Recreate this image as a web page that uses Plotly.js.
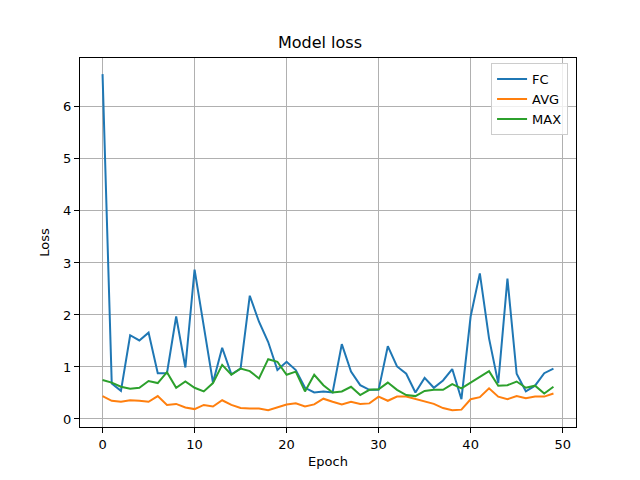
<!DOCTYPE html>
<html>
<head>
<meta charset="utf-8">
<script src="https://cdn.plot.ly/plotly-3.0.1.min.js"></script>
<style>html,body{margin:0;padding:0;background:#fff;}#chart{width:640px;height:480px;}</style>
</head>
<body>
<div id="chart"></div>
<script>
const epochs = Array.from({length: 50}, (_, i) => i);
const fcLoss = [6.63,0.68,0.54,1.61,1.51,1.66,0.88,0.88,1.97,0.99,
                2.87,1.80,0.70,1.37,0.86,0.97,2.37,1.87,1.48,0.94,
                1.10,0.94,0.60,0.51,0.53,0.51,1.44,0.91,0.65,0.56,
                0.56,1.40,1.01,0.87,0.51,0.79,0.60,0.74,0.96,0.38,
                1.97,2.80,1.55,0.69,2.70,0.87,0.53,0.64,0.88,0.97];
const avgLoss = [0.44,0.35,0.33,0.36,0.35,0.33,0.44,0.27,0.29,0.22,
                 0.19,0.27,0.24,0.36,0.27,0.21,0.20,0.20,0.17,0.22,
                 0.28,0.30,0.24,0.28,0.39,0.33,0.28,0.33,0.29,0.30,
                 0.43,0.35,0.43,0.43,0.38,0.33,0.29,0.21,0.17,0.18,
                 0.38,0.42,0.59,0.43,0.38,0.44,0.40,0.43,0.43,0.49];
const maxLoss = [0.75,0.70,0.62,0.58,0.60,0.73,0.69,0.90,0.60,0.72,
                 0.60,0.53,0.69,1.04,0.85,0.97,0.92,0.78,1.15,1.10,
                 0.85,0.91,0.53,0.85,0.65,0.51,0.53,0.62,0.46,0.56,
                 0.57,0.70,0.56,0.46,0.44,0.54,0.56,0.56,0.67,0.59,
                 0.70,0.81,0.92,0.64,0.65,0.72,0.60,0.64,0.49,0.62];
const seriesNames = ["FC", "AVG", "MAX"];
const colors = ["#1f77b4", "#ff7f0e", "#2ca02c"];
const xTicks = [0, 10, 20, 30, 40, 50];
const yTicks = [0, 1, 2, 3, 4, 5, 6];

const data = [fcLoss, avgLoss, maxLoss].map((ys, i) => ({
  x: epochs, y: ys, type: "scatter", mode: "lines", name: seriesNames[i],
  line: {color: colors[i], width: 2}
}));

const axisCommon = {
  showline: true, mirror: true, linecolor: "#000", linewidth: 1,
  ticks: "outside", ticklen: 5, tickcolor: "#000", tickwidth: 1,
  showgrid: true, gridcolor: "#b0b0b0", gridwidth: 1, zeroline: false,
  tickfont: {family: "DejaVu Sans", size: 13, color: "#000"}
};

const layout = {
  width: 640, height: 480,
  margin: {l: 80, r: 64, t: 58, b: 53},
  paper_bgcolor: "#fff", plot_bgcolor: "#fff",
  font: {family: "DejaVu Sans", color: "#000"},
  title: {text: "Model loss", font: {family: "DejaVu Sans", size: 16, color: "#000"}, x: 0.5, xanchor: "center", y: 0.912, yanchor: "middle"},
  xaxis: Object.assign({}, axisCommon, {
    range: [-2.45, 51.45], tickvals: xTicks, ticktext: xTicks.map(String),
    title: {text: "Epoch", font: {family: "DejaVu Sans", size: 13, color: "#000"}, standoff: 6}
  }),
  yaxis: Object.assign({}, axisCommon, {
    range: [-0.154, 6.94], tickvals: yTicks, ticktext: yTicks.map(String),
    title: {text: "Loss", font: {family: "DejaVu Sans", size: 13, color: "#000"}, standoff: 10}
  }),
  legend: {
    x: 0.984, xanchor: "right", y: 0.986, yanchor: "top",
    bgcolor: "rgba(255,255,255,0.8)", bordercolor: "#cccccc", borderwidth: 1,
    font: {family: "DejaVu Sans", size: 13, color: "#000"},
    tracegroupgap: 0
  },
  showlegend: true
};

Plotly.newPlot("chart", data, layout, {displayModeBar: false, staticPlot: true});
</script>
</body>
</html>
